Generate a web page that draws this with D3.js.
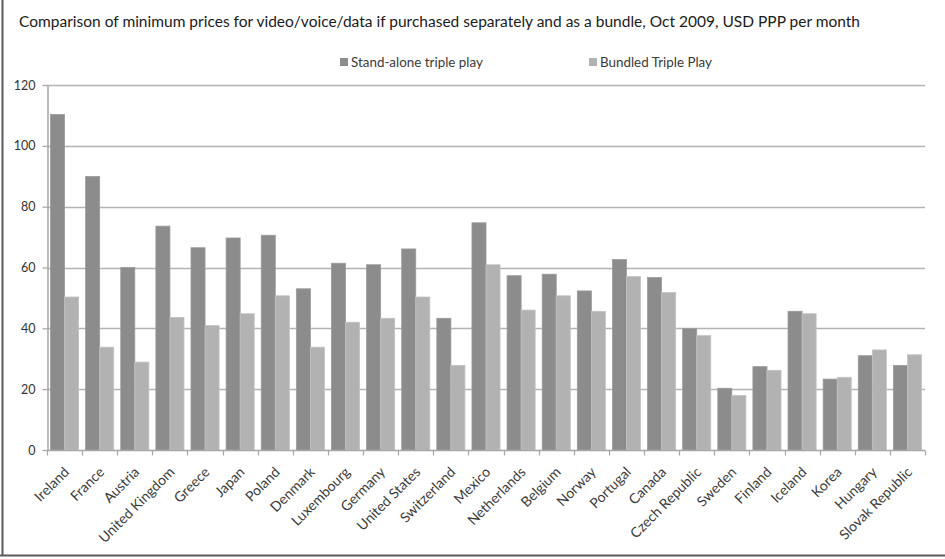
<!DOCTYPE html>
<html><head><meta charset="utf-8">
<script src="https://cdn.jsdelivr.net/npm/d3@7"></script>
<style>
html,body{margin:0;padding:0;background:#fff;}
svg{display:block;}
</style></head>
<body>
<svg id="chart" width="945" height="559"></svg>
<script>
const countries = ["Ireland","France","Austria","United Kingdom","Greece","Japan","Poland","Denmark","Luxembourg","Germany","United States","Switzerland","Mexico","Netherlands","Belgium","Norway","Portugal","Canada","Czech Republic","Sweden","Finland","Iceland","Korea","Hungary","Slovak Republic"];
const standalone = [110.3,89.9,60.0,73.6,66.5,69.7,70.6,53.0,61.4,60.9,66.1,43.3,74.7,57.3,57.8,52.3,62.6,56.7,39.9,20.3,27.4,45.6,23.3,31.0,27.8];
const bundled    = [50.3,33.8,28.9,43.6,40.9,44.8,50.7,33.8,42.0,43.3,50.3,27.8,60.9,46.0,50.7,45.6,57.0,51.8,37.6,17.9,26.2,44.8,23.9,32.9,31.3];
const seriesNames = ["Stand-alone triple play","Bundled Triple Play"];
const yTicks = [0,20,40,60,80,100,120];
const titleText = "Comparison of minimum prices for video/voice/data if purchased separately and as a bundle, Oct 2009,  USD PPP per month";

const colors = ["#8c8c8c","#b2b2b2"];
const font = "Lato, 'Open Sans', sans-serif";
const svg = d3.select("#chart");

// frame
svg.append("line").attr("x1",2.5).attr("x2",2.5).attr("y1",0).attr("y2",555.5).attr("stroke","#5a5a5a").attr("stroke-width",2);
svg.append("line").attr("x1",0).attr("x2",945).attr("y1",555.5).attr("y2",555.5).attr("stroke","#5a5a5a").attr("stroke-width",2);

const L = 47, R = 925, T = 85, B = 450;
const x = d3.scaleBand().domain(countries).range([L,R]).paddingInner(0.2).paddingOuter(0.1);
const xOuter = d3.scaleBand().domain(countries).range([L,R]);
const xs = d3.scaleBand().domain([0,1]).range([0,x.bandwidth()]);
const y = d3.scaleLinear().domain([0,120]).range([B,T]);

// gridlines
svg.append("g").selectAll("line").data(yTicks.filter(d=>d>0)).join("line")
  .attr("x1",L).attr("x2",R).attr("y1",d=>Math.round(y(d))+0.5).attr("y2",d=>Math.round(y(d))+0.5)
  .attr("stroke","#b4b4b4").attr("stroke-width",1.5);

// y axis
const yAxis = svg.append("g").attr("transform",`translate(${L+0.5},0)`)
  .call(d3.axisLeft(y).tickValues(yTicks).tickSize(5).tickSizeOuter(0).tickPadding(7));
yAxis.select(".domain").attr("stroke","#a6a6a6").attr("stroke-width",1.5);
yAxis.selectAll(".tick line").attr("stroke","#a6a6a6").attr("stroke-width",1.2);
yAxis.selectAll(".tick text").attr("font-family",font).attr("font-size",12.5).attr("fill","#333");

// bars
const data = countries.map((c,i)=>({c, v:[standalone[i],bundled[i]]}));
const g = svg.append("g");
data.forEach(d=>{
  d.v.forEach((v,k)=>{
    g.append("rect")
      .attr("x",x(d.c)+xs(k)).attr("width",xs.bandwidth())
      .attr("y",y(v)).attr("height",B-y(v))
      .attr("fill",colors[k]).attr("stroke",k===0?"#9a9a9a":"#c2c2c2").attr("stroke-width",0.8);
  });
});

// x axis
const xAxisG = svg.append("g").attr("transform",`translate(0,${B+0.5})`);
xAxisG.append("line").attr("x1",L).attr("x2",R).attr("stroke","#a6a6a6").attr("stroke-width",1.5);
const bounds = countries.map(c=>xOuter(c)).concat([R]);
xAxisG.selectAll("line.t").data(bounds).join("line").attr("class","t")
  .attr("x1",d=>Math.round(d)+0.5).attr("x2",d=>Math.round(d)+0.5).attr("y1",0).attr("y2",5)
  .attr("stroke","#a6a6a6").attr("stroke-width",1.2);
xAxisG.selectAll("text").data(countries).join("text")
  .attr("transform",d=>`translate(${x(d)+x.bandwidth()/2+2},${19}) rotate(-45)`)
  .attr("text-anchor","end").attr("dy","0.35em")
  .attr("font-family",font).attr("font-size",14).attr("fill","#3a3a3a")
  .text(d=>d);

// title
svg.append("text").attr("x",19).attr("y",27).attr("font-family",font).attr("font-size",14.5)
  .attr("fill","#1a1a1a").attr("textLength",841).attr("lengthAdjust","spacingAndGlyphs").text(titleText);

// legend
const legX = [340,589];
seriesNames.forEach((s,k)=>{
  svg.append("rect").attr("x",legX[k]).attr("y",58).attr("width",8).attr("height",8).attr("fill",colors[k]);
  svg.append("text").attr("x",legX[k]+11).attr("y",62).attr("dy","0.35em")
    .attr("font-family",font).attr("font-size",13.4).attr("fill","#3a3a3a").text(s);
});
</script>
</body></html>
